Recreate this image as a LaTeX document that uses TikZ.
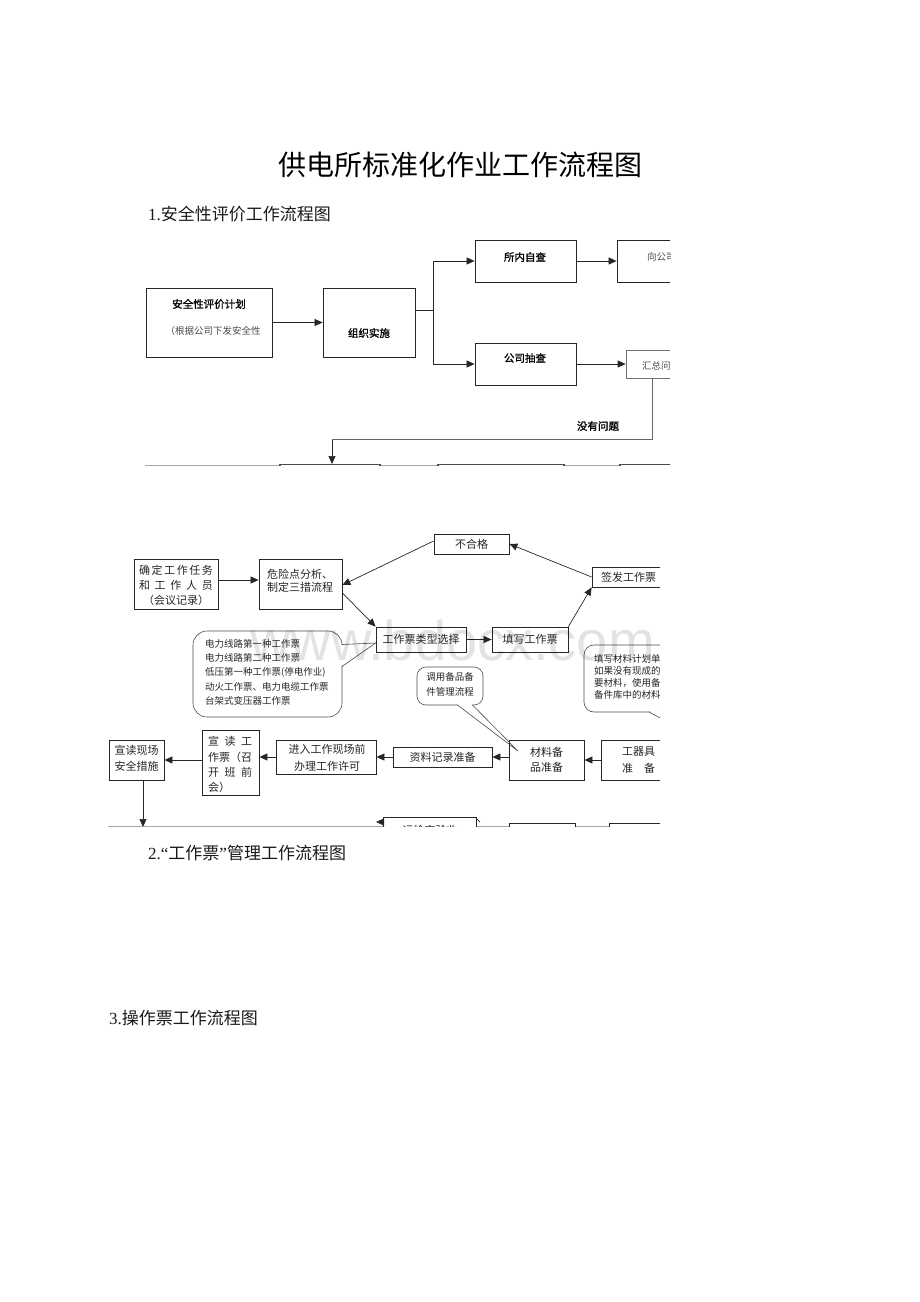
\documentclass[tikz,border=0pt]{standalone}
\usepackage{fontspec}
\setmainfont{Liberation Serif}
\newfontfamily\cjk{Noto Sans CJK SC}
\newfontfamily\cjkb[FakeBold=1.2]{Noto Sans CJK SC}
\newfontfamily\wm{Liberation Sans}
\usetikzlibrary{arrows.meta,fit}
\begin{document}
\begin{tikzpicture}[x=1pt,y=-1pt,
  box/.style={draw=black!85, line width=0.8pt, fill=white, inner sep=0pt, rectangle},
  gbox/.style={draw=black!55, line width=0.7pt, fill=white, inner sep=0pt, rectangle},
  arr/.style={-{Triangle[length=8pt,width=7pt]}, line width=0.7pt, draw=black!85},
  ln/.style={line width=0.7pt, draw=black!85},
  cl/.style={line width=0.6pt, draw=black!70},
  tb/.style={inner sep=0pt, font=\cjkb\fontsize{10.5}{12}\selectfont, text=black},
  tg/.style={inner sep=0pt, font=\cjk\fontsize{9.5}{11}\selectfont, text=black!70},
  t/.style={inner sep=0pt, font=\cjk\fontsize{11}{13}\selectfont, text=black!85},
  ts/.style={inner sep=0pt, font=\cjk\fontsize{9.5}{11}\selectfont, text=black!85},
  hd/.style={inner sep=0pt, anchor=west, font=\fontsize{17}{20}\selectfont, text=black!90}]
\useasboundingbox (0,0) rectangle (920,1302);

% titles
\node[inner sep=0pt, font=\cjk\fontsize{28}{32}\selectfont] (title) at (460,165) {供电所标准化作业工作流程图};
\node[hd] (h1) at (148,214) {1.{\cjk 安全性评价工作流程图}};
\node[hd] (h2) at (148,853) {2.“{\cjk 工作票}”{\cjk 管理工作流程图}};
\node[hd] (h3) at (109,1018) {3.{\cjk 操作票工作流程图}};

% ================= diagram 1 =================
\begin{scope}
\clip (140,228) rectangle (670,465.3);
\node[box, fit={(146,288)(272,357)}] (n1) {};
\node[tb] (n1a) at (209,304) {安全性评价计划};
\node[tg] (n1b) at (213,331) {（根据公司下发安全性};
\node[box, fit={(323,288)(415,357)}] (n2) {};
\node[tb] (n2a) at (369,333) {组织实施};
\coordinate (j) at (433,310);
\node[box, fit={(475,240)(576,282)}] (n3) {};
\node[tb] (n3a) at (525,257) {所内自查};
\node[box, fit={(475,343)(576,385)}] (n5) {};
\node[tb] (n5a) at (525,358) {公司抽查};
\node[box, fit={(617,240)(740,282)}] (n4) {};
\node[tg, anchor=west] (n4a) at (647,257) {向公司上报};
\node[gbox, fit={(626,350)(740,378)}] (n6) {};
\node[tg, anchor=west] (n6a) at (642,366) {汇总问题};

\draw[arr] (n1.east) -- (n1.east -| n2.west);
\draw[ln] (n2.east |- j) -- (j);
\draw[ln] (j |- n3) -- (j |- n5);
\draw[arr] (j |- n3) -- (n3.west);
\draw[arr] (j |- n5) -- (n5.west);
\draw[arr] (n3.east) -- (n3.east -| n4.west);
\draw[arr] (n5.east) -- (n5.east -| n6.west);

\coordinate (c1) at (652,439.5);
\coordinate (c2) at (332,439.5);
\coordinate (e1) at (332,464);
\draw[line width=0.7pt, draw=black!60] (n6.south -| c1) -- (c1) -- (c2);
\draw[arr] (c2) -- (e1);
\node[tb] (ok) at (598,426) {没有问题};

\draw[draw=black!35, line width=0.8pt] (145,465) -- (670,465);
\node[box, line width=1.2pt, draw=black!70, fit={(280,464.6)(380,490)}] (m1) {};
\node[box, line width=1.2pt, draw=black!70, fit={(438,464.6)(564,490)}] (m2) {};
\node[box, line width=1.2pt, draw=black!70, fit={(620,464.6)(720,490)}] (m3) {};
\end{scope}

% ================= diagram 2 =================
\begin{scope}
\clip (100,520) rectangle (660,826.5);

\node[box, fit={(134,559)(218,609)}] (qd) {};
\node[t] (qd1) at (176,570) {\makebox[74pt][s]{确\hfill 定\hfill 工\hfill 作\hfill 任\hfill 务}};
\node[t] (qd2) at (176,585) {\makebox[74pt][s]{和\hfill 工\hfill 作\hfill 人\hfill 员}};
\node[t] (qd3) at (176,600) {（会议记录）};

\node[box, fit={(259,559)(342,609)}] (wx) {};
\node[t, anchor=west] (wx1) at (267,574) {危险点分析、};
\node[t, anchor=west] (wx2) at (267,587) {制定三措流程};

\node[box, fit={(434,534)(509,554)}] (bhg) {};
\node[t] (bhg1) at (471.5,544) {不合格};

\node[box, fit={(592,567)(720,587)}] (qf) {};
\node[t, anchor=west] (qf1) at (601,577) {签发工作票};

\node[box, fit={(376,627)(466,652)}] (lx) {};
\node[t] (lx1) at (421,639.5) {工作票类型选择};

\node[box, fit={(492,627)(568,652)}] (tx) {};
\node[t] (tx1) at (530,639.5) {填写工作票};

\draw[arr] ([yshift=4pt]qd.east) -- ([yshift=4pt]qd.east -| wx.west);
\draw[arr] ([yshift=3pt]bhg.west) -- ([yshift=-1pt]wx.east);
\draw[arr] ([yshift=-9pt]wx.east) -- (lx.north west);
\draw[arr] (lx.east) -- (tx.west);
\draw[arr] (tx.north east) -- (qf.south west);
\draw[arr] (qf.west) -- (bhg.east);

% left callout
\draw[cl, rounded corners=14pt, fill=white] (193,631) rectangle (342,717);
\coordinate (tip1) at ([yshift=-3.5pt]lx.west);
\fill[white] (341.2,645) -- (tip1) -- (341.2,666) -- cycle;
\draw[cl] (342,644.5) -- (tip1) -- (342,666.5);
\node[ts, anchor=west] (k1) at (205,644) {电力线路第一种工作票};
\node[ts, anchor=west] (k2) at (205,658) {电力线路第二种工作票};
\node[ts, anchor=west] (k3) at (205,672) {低压第一种工作票(停电作业)};
\node[ts, anchor=west] (k4) at (205,687) {动火工作票、电力电缆工作票};
\node[ts, anchor=west] (k5) at (205,701) {台架式变压器工作票};

% right callout
\draw[cl, rounded corners=10pt, fill=white] (584,645) rectangle (720,712);
\fill[white] (650,711) rectangle (667,713);
\draw[cl] (649,712) -- (705,742);
\draw[cl] (668,712) -- (705,742);
\node[ts, anchor=west] (r1) at (594,659) {填写材料计划单，};
\node[ts, anchor=west] (r2) at (594,671) {如果没有现成的需};
\node[ts, anchor=west] (r3) at (594,683) {要材料，使用备品};
\node[ts, anchor=west] (r4) at (594,695) {备件库中的材料。};

% bottom row
\node[box, fit={(109,740)(164,780)}] (xdxc) {};
\node[t] (xdxc1) at (136.5,750) {宣读现场};
\node[t] (xdxc2) at (136.5,766) {安全措施};

\node[box, fit={(202,730)(259,795)}] (xdg) {};
\node[t] (xdg1) at (230,741) {\makebox[44pt][s]{宣\hfill 读\hfill 工}};
\node[t] (xdg2) at (230,757) {\makebox[44pt][s]{作\hfill 票\hfill （\hfill 召}};
\node[t] (xdg3) at (230,772) {\makebox[44pt][s]{开\hfill 班\hfill 前}};
\node[t, anchor=west] (xdg4) at (208,787) {会）};

\node[box, fit={(276,740)(376,774)}] (jr) {};
\node[t] (jr1) at (327,749.5) {进入工作现场前};
\node[t] (jr2) at (327,766) {办理工作许可};

\node[box, fit={(393,747)(492,767)}] (zl) {};
\node[t] (zl1) at (442.5,757) {资料记录准备};

\node[box, fit={(509,740)(584,780)}] (clb) {};
\node[t] (cl1) at (546.5,752) {材料备};
\node[t] (cl2) at (546.5,767) {品准备};

\node[box, fit={(601,740)(720,780)}] (gqj) {};
\node[t, anchor=west] (gqj1) at (622,752) {工器具};
\node[t, anchor=west] (gqj2) at (622,768) {准\hspace{11pt}备};

\draw[arr] (gqj.west) -- (gqj.west -| clb.east);
\draw[arr] (clb.west |- zl) -- (zl.east);
\draw[arr] (zl.west) -- (zl.west -| jr.east);
\draw[arr] (jr.west) -- (jr.west -| xdg.east);
\draw[arr] (xdg.west |- xdxc) -- (xdxc.east);
\coordinate (down) at (143,827);
\draw[arr] (xdxc.south -| down) -- (down);

% callout for spare parts
\draw[cl, rounded corners=9pt, fill=white] (417,667) rectangle (483,705);
\coordinate (tip2) at (518,751);
\fill[white] (458,704) rectangle (472,706);
\draw[cl] (457.5,705) -- (tip2) -- (472.5,705);
\node[ts] (d1) at (450,677) {调用备品备};
\node[ts] (d2) at (450,692) {件管理流程};

% bottom cut
\draw[draw=black!35, line width=0.8pt] (108,826) -- (660,826);
\node[box, fit={(383,817)(476,845)}] (ysj) {};
\node[t] (ysj1) at (430,830) {运检交验收};
\coordinate (ya) at (376,822);
\draw[arr] (ysj.west |- ya) -- (ya);
\draw[ln] (476,818) -- (480,822);
\node[box, fit={(509,823)(575,845)}] (b2) {};
\node[box, fit={(609,823)(720,845)}] (b3) {};

% watermark
\node[inner sep=0pt, anchor=base west, font=\wm\fontsize{56}{60}\selectfont, text=black, text opacity=0.11] (wmk) at (250,660) {www.bdocx.com};
\end{scope}
\end{tikzpicture}
\end{document}
